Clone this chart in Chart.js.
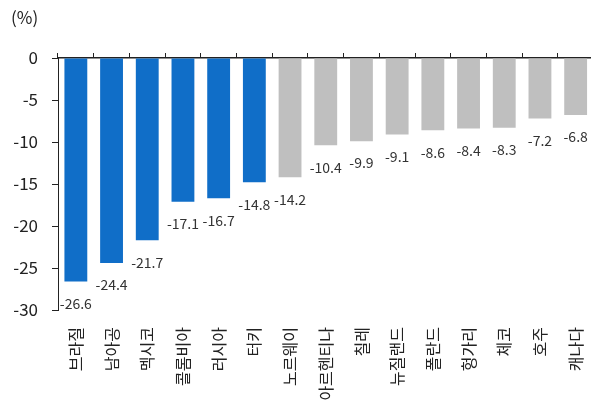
<!DOCTYPE html>
<html><head><meta charset="utf-8">
<script src="https://cdn.jsdelivr.net/npm/chart.js@4"></script>
<style>
html,body{margin:0;padding:0;overflow:hidden;background:#fff;}
#wrap{position:relative;width:595px;height:410px;}
#unit{position:absolute;left:11px;top:4px;font:17px 'Noto Sans CJK KR','Noto Sans',sans-serif;color:#222;}
</style></head>
<body>
<div id="wrap"><canvas id="c" width="595" height="410"></canvas><div id="unit">(%)</div></div>
<script>
const categories = ['브라질','남아공','멕시코','콜롬비아','러시아','터키','노르웨이','아르헨티나','칠레','뉴질랜드','폴란드','헝가리','체코','호주','캐나다'];
const values = [-26.6,-24.4,-21.7,-17.1,-16.7,-14.8,-14.2,-10.4,-9.9,-9.1,-8.6,-8.4,-8.3,-7.2,-6.8];
const highlighted = [true,true,true,true,true,true,false,false,false,false,false,false,false,false,false];
const yTicks = [0,-5,-10,-15,-20,-25,-30];

const BLUE = '#106ec8', GRAY = '#bfbfbf';
const FONT = "'Noto Sans CJK KR','Noto Sans',sans-serif";

const labelPlugin = {
  id:'vlabels',
  afterDatasetsDraw(chart){
    const ctx = chart.ctx;
    const meta = chart.getDatasetMeta(0);
    ctx.save();
    ctx.font = '14px ' + FONT;
    ctx.fillStyle = '#333';
    ctx.textAlign = 'center';
    ctx.textBaseline = 'middle';
    meta.data.forEach((el,i)=>{
      ctx.fillText(values[i].toFixed(1), el.x, el.y + 22);
    });
    ctx.restore();
  }
};

new Chart(document.getElementById('c'), {
  type:'bar',
  data:{
    labels: categories,
    datasets:[{
      data: values,
      backgroundColor: highlighted.map(h=>h?BLUE:GRAY),
      borderWidth:0,
      categoryPercentage:0.64,
      barPercentage:1.0
    }]
  },
  options:{
    responsive:false,
    animation:false,
    layout:{padding:{left:0,right:1.5,top:52,bottom:0}},
    plugins:{legend:{display:false},tooltip:{enabled:false}},
    scales:{
      x:{
        position:'bottom',
        grid:{display:false},
        border:{display:false},
        ticks:{
          autoSkip:false, minRotation:90, maxRotation:90,
          color:'#222', padding:9,
          font:{family:FONT,size:16}
        },
        afterFit(s){ s.height = 100; s.paddingLeft = 0; s.paddingRight = 0; }
      },
      x2:{
        type:'category',
        labels: categories,
        position:'top',
        offset:true,
        grid:{display:true, drawOnChartArea:false, offset:true, tickLength:5, color:'#222', lineWidth:1},
        border:{display:true, color:'#222', width:1.5},
        ticks:{display:false},
        afterFit(s){ s.height = 6; s.paddingLeft = 0; s.paddingRight = 0; }
      },
      y:{
        min:-30, max:0,
        afterBuildTicks(s){ s.ticks = yTicks.map(v=>({value:v})); },
        grid:{display:true, drawOnChartArea:false, tickLength:6, color:'#222', lineWidth:1},
        border:{display:true, color:'#222', width:1},
        ticks:{color:'#222', padding:14, font:{family:FONT,size:17}},
        afterFit(s){ s.width = 58; s.paddingTop = 0; s.paddingBottom = 0; }
      }
    }
  },
  plugins:[labelPlugin]
});
</script>
</body></html>
